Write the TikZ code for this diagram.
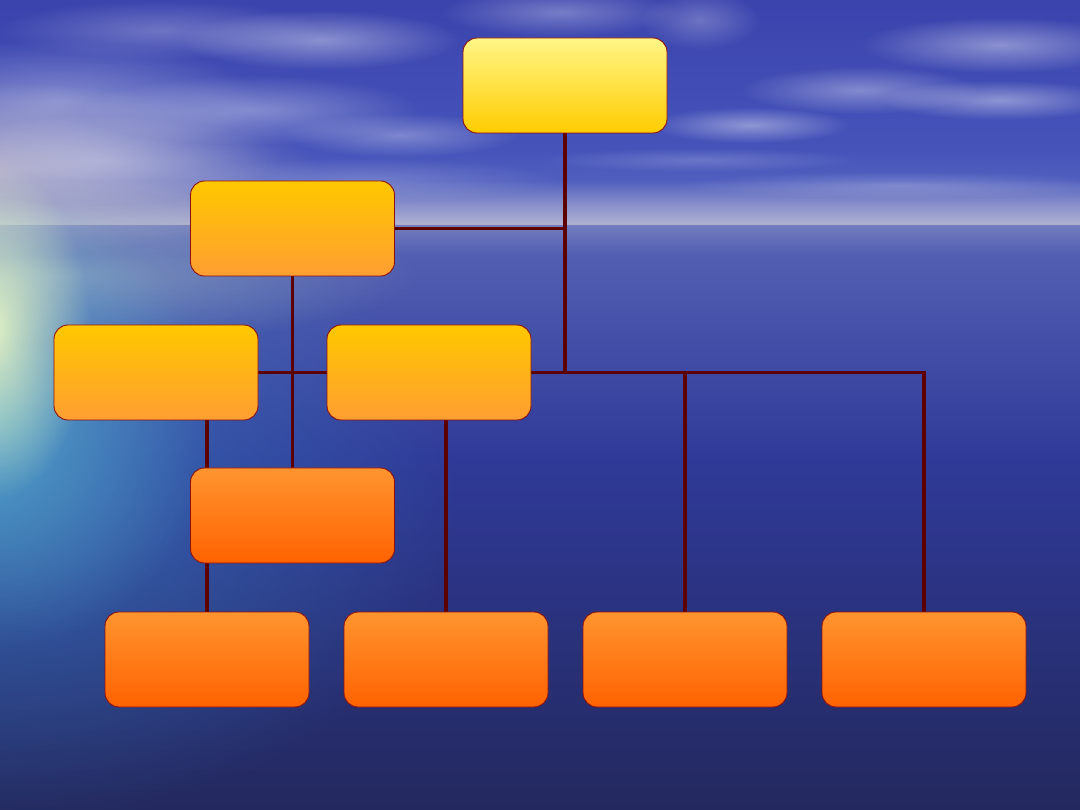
\documentclass[tikz,border=0pt]{standalone}
\usetikzlibrary{fadings,backgrounds}
\tikzfading[name=softedge, inner color=transparent!0, outer color=transparent!100]
\tikzfading[name=fadeup, top color=transparent!100, bottom color=transparent!0]
\tikzfading[name=fadedown, top color=transparent!0, bottom color=transparent!100]
\definecolor{skytop}{HTML}{3A42AC}
\definecolor{skymid}{HTML}{4654BA}
\definecolor{skylow}{HTML}{5E6EC4}
\definecolor{seatop}{HTML}{5664B6}
\definecolor{seamid}{HTML}{2F3A98}
\definecolor{seabot}{HTML}{23285C}
\definecolor{haze}{HTML}{C8C4D6}
\definecolor{linecol}{HTML}{5C0000}
\definecolor{boxline}{HTML}{8B1010}
\definecolor{ylA}{HTML}{FFF688}
\definecolor{ylB}{HTML}{FFCC00}
\definecolor{orA}{HTML}{FFC800}
\definecolor{orB}{HTML}{FF9E32}
\definecolor{rdA}{HTML}{FF9530}
\definecolor{rdB}{HTML}{FF6200}
\definecolor{glowblue}{HTML}{3C82C4}
\definecolor{glowcyan}{HTML}{64CCD8}
\definecolor{glowsun}{HTML}{F4FFC4}
\definecolor{glowgrey}{HTML}{A8BCC4}
\definecolor{pinkhaze}{HTML}{DCD0CC}
\tikzset{
  box/.style={rounded corners=14pt, minimum width=204pt, minimum height=95pt,
    draw=boxline, line width=0.9pt, inner sep=0pt},
  boxtop/.style={box, top color=ylA, bottom color=ylB},
  boxmid/.style={box, top color=orA, bottom color=orB},
  boxlow/.style={box, top color=rdA, bottom color=rdB},
  conn/.style={draw=linecol, line width=3.5pt},
  cloud/.style={fill=white, path fading=softedge},
}
\begin{document}
\begin{tikzpicture}[x=1pt,y=-1pt]
\useasboundingbox (0,0) rectangle (1080,810);
\begin{scope}[on background layer]
  \clip (0,0) rectangle (1080,810);
  % sky
  \fill[top color=skytop, bottom color=skymid] (-10,-10) rectangle (1090,150);
  \fill[top color=skymid, bottom color=skylow] (-10,149) rectangle (1090,226);
  % sea
  \fill[top color=seatop, bottom color=seamid] (-10,225) rectangle (1090,460);
  \fill[top color=seamid, bottom color=seabot] (-10,459) rectangle (1090,820);
  % horizon haze
  \fill[haze, path fading=fadeup, fill opacity=0.8] (-10,180) rectangle (1090,225);
  \fill[haze, path fading=fadedown, fill opacity=0.25] (-10,225) rectangle (1090,255);
  % left sky haze
  \fill[cloud, fill=pinkhaze, fill opacity=0.75] (-60,170) ellipse [x radius=380, y radius=90];
  % left glow on sea
  \fill[cloud, fill=glowblue, fill opacity=0.65] (-20,500) ellipse [x radius=480, y radius=330];
  \fill[cloud, fill=glowgrey, fill opacity=0.55] (60,275) ellipse [x radius=360, y radius=70];
  \fill[cloud, fill=glowcyan, fill opacity=0.6] (-10,420) ellipse [x radius=230, y radius=230];
  \fill[cloud, fill=glowsun, fill opacity=0.9] (-10,330) ellipse [x radius=100, y radius=170];
  % clouds left
  \fill[cloud, fill opacity=0.35] (60,100) ellipse [x radius=200, y radius=60];
  \fill[cloud, fill opacity=0.35] (250,110) ellipse [x radius=170, y radius=35];
  \fill[cloud, fill opacity=0.30] (400,135) ellipse [x radius=120, y radius=22];
  \fill[cloud, fill opacity=0.40] (320,40) ellipse [x radius=140, y radius=30];
  \fill[cloud, fill opacity=0.30] (560,12) ellipse [x radius=120, y radius=25];
  \fill[cloud, fill opacity=0.35] (100,160) ellipse [x radius=180, y radius=45];
  \fill[cloud, fill opacity=0.20] (360,180) ellipse [x radius=200, y radius=22];
  \fill[cloud, fill opacity=0.25] (160,30) ellipse [x radius=160, y radius=30];
  % clouds right
  \fill[cloud, fill opacity=0.40] (750,125) ellipse [x radius=100, y radius=18];
  \fill[cloud, fill opacity=0.35] (860,90) ellipse [x radius=120, y radius=24];
  \fill[cloud, fill opacity=0.40] (1000,45) ellipse [x radius=140, y radius=28];
  \fill[cloud, fill opacity=0.40] (1000,100) ellipse [x radius=120, y radius=20];
  \fill[cloud, fill opacity=0.22] (900,185) ellipse [x radius=220, y radius=14];
  \fill[cloud, fill opacity=0.18] (700,160) ellipse [x radius=160, y radius=12];
  \fill[cloud, fill opacity=0.25] (700,20) ellipse [x radius=60, y radius=30];
\end{scope}

% boxes
\node[boxtop] (top) at (565,85.5) {};
\node[boxmid] (a) at (292.5,228.5) {};
\node[boxmid] (b) at (156,372.5) {};
\node[boxmid] (c) at (429,372.5) {};
\node[boxlow] (d) at (292.5,515.5) {};
\node[boxlow] (e1) at (207,659.5) {};
\node[boxlow] (e2) at (446,659.5) {};
\node[boxlow] (e3) at (685,659.5) {};
\node[boxlow] (e4) at (924,659.5) {};

\begin{scope}[on background layer]
  \draw[conn] (top.south) -- (top.south |- c.east);
  \draw[conn] (a.east) -- (top.south |- a.east);
  \draw[conn] (c.east) -- (e4.north |- c.east) -- (e4.north);
  \draw[conn] (e3.north |- c.east) -- (e3.north);
  \draw[conn] (b.east) -- (c.west);
  \draw[conn] (a.south) -- (d.north);
  \draw[conn] (e1.north |- b.south) -- (e1.north);
  \draw[conn] (e2.north |- c.south) -- (e2.north);
\end{scope}
\end{tikzpicture}
\end{document}
